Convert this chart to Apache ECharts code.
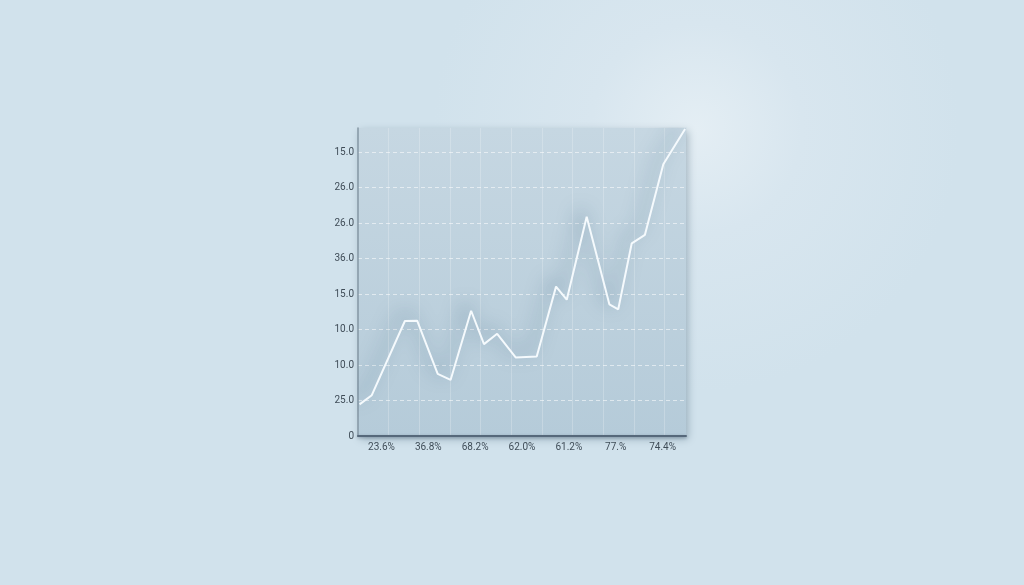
<!DOCTYPE html>
<html>
<head>
<meta charset="utf-8">
<script src="https://cdn.jsdelivr.net/npm/echarts@6/dist/echarts.min.js"></script>
<style>
html,body{margin:0;padding:0;width:1024px;height:585px;overflow:hidden;}
#c{width:1024px;height:585px;}
</style>
</head>
<body>
<div id="c"></div>
<script>
// Category labels under the x axis
var xCategories = ['23.6%', '36.8%', '68.2%', '62.0%', '61.2%', '77.%', '74.4%'];
// Y tick labels (bottom to top), as printed
var yTickLabels = ['0', '25.0', '10.0', '10.0', '15.0', '36.0', '26.0', '26.0', '15.0'];
// Line points: x position along the plot (grid units), y value (tick units)
var lineX = [0.05, 0.45, 1.53, 1.93, 2.60, 3.02, 3.69, 4.11, 4.54, 5.15, 5.83, 6.46, 6.81, 7.46, 8.20, 8.49, 8.93, 9.36, 9.96, 10.67];
var lineY = [0.89, 1.15, 3.24, 3.25, 1.75, 1.58, 3.53, 2.59, 2.88, 2.21, 2.24, 4.21, 3.84, 6.18, 3.71, 3.57, 5.43, 5.67, 7.66, 8.65];

var lineData = lineX.map(function (x, i) { return [x, lineY[i]]; });

var chart = echarts.init(document.getElementById('c'), null, {renderer: 'canvas'});
var labelColor = '#3f4c57';
chart.setOption({
  backgroundColor: {
    type: 'radial', x: 0.68, y: 0.22, r: 0.45,
    colorStops: [
      {offset: 0, color: '#e4eef4'},
      {offset: 0.4, color: '#d8e6ef'},
      {offset: 1, color: '#d1e2ec'}
    ]
  },
  animation: false,
  grid: {
    left: 358, top: 128, width: 328, height: 308,
    show: true,
    borderWidth: 0,
    backgroundColor: {
      type: 'linear', x: 0, y: 0, x2: 0, y2: 1,
      colorStops: [
        {offset: 0, color: '#c6d7e2'},
        {offset: 1, color: '#b5cbd9'}
      ]
    },
    shadowColor: 'rgba(50,80,100,0.35)',
    shadowBlur: 8,
    shadowOffsetX: 2,
    shadowOffsetY: 3
  },
  xAxis: [
    {
      type: 'value', min: 0, max: 10.7, interval: 1,
      position: 'bottom',
      axisLine: {show: false}, axisTick: {show: false}, axisLabel: {show: false},
      splitLine: {show: true, showMinLine: false, showMaxLine: false, lineStyle: {color: 'rgba(255,255,255,0.22)', width: 1}}
    },
    {
      type: 'category', data: xCategories, boundaryGap: true,
      position: 'bottom',
      axisLine: {show: true, onZero: false, lineStyle: {color: '#56687a', width: 2, shadowColor: 'rgba(40,60,80,0.35)', shadowBlur: 3, shadowOffsetY: 1}},
      axisTick: {show: false},
      axisLabel: {color: labelColor, fontSize: 10, fontFamily: 'Roboto, "DejaVu Sans", sans-serif', margin: 6},
      splitLine: {show: false}
    }
  ],
  yAxis: {
    type: 'value', min: 0, max: 8.68, interval: 1,
    axisLine: {show: true, lineStyle: {color: '#8597a4', width: 1.5}},
    axisTick: {show: false},
    axisLabel: {
      color: labelColor, fontSize: 10, fontFamily: 'Roboto, "DejaVu Sans", sans-serif', margin: 4,
      showMaxLabel: false,
      formatter: function (v) {
        var i = Math.round(v);
        if (Math.abs(v - i) > 1e-6) return '';
        return yTickLabels[i] || '';
      }
    },
    splitLine: {show: true, showMinLine: false, showMaxLine: false, lineStyle: {color: 'rgba(255,255,255,0.55)', width: 1, type: [4, 3]}}
  },
  series: [
    {
      type: 'line',
      xAxisIndex: 0,
      data: lineData,
      symbol: 'none',
      lineStyle: {
        color: '#f5fafd', width: 2,
        shadowColor: 'rgba(35,75,105,0.6)', shadowBlur: 18,
        shadowOffsetX: -6, shadowOffsetY: -6
      },
      z: 5
    }
  ]
});
</script>
</body>
</html>
